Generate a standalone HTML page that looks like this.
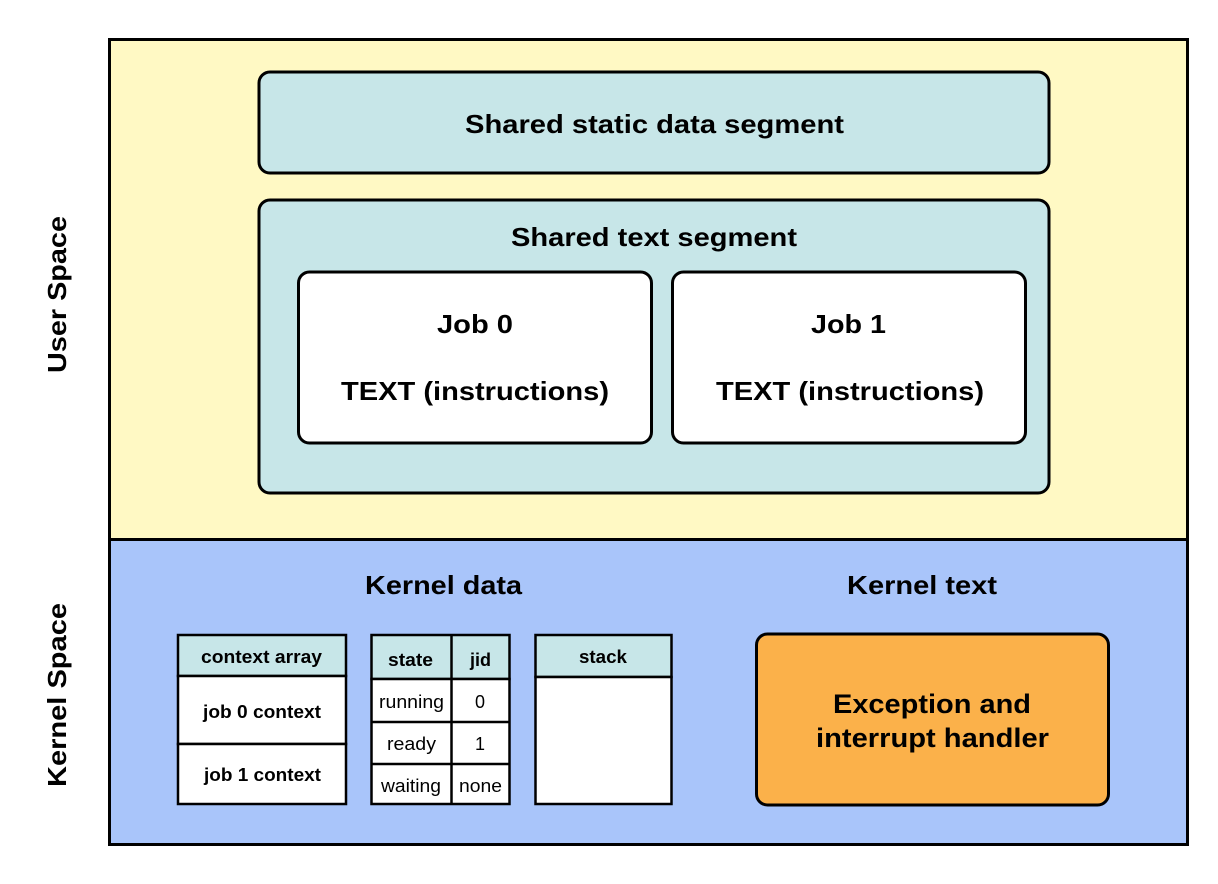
<!DOCTYPE html>
<html><head><style>
html,body{margin:0;padding:0;background:#fff;}
svg{display:block;font-family:"Liberation Sans",Arial,sans-serif;}
</style></head><body>
<svg width="1218" height="884" viewBox="0 0 1218 884">
<rect x="0" y="0" width="1218" height="884" fill="#fff"/>
<rect x="109.5" y="39.5" width="1078" height="500" fill="#fff9c4" stroke="#000" stroke-width="3"/>
<rect x="109.5" y="539.5" width="1078" height="305" fill="#a9c5fa" stroke="#000" stroke-width="3"/>
<text transform="translate(66,294.5) rotate(-90)" text-anchor="middle" font-size="26" font-weight="bold" textLength="157" lengthAdjust="spacingAndGlyphs">User Space</text>
<text transform="translate(66,695) rotate(-90)" text-anchor="middle" font-size="26" font-weight="bold" textLength="184" lengthAdjust="spacingAndGlyphs">Kernel Space</text>

<rect x="259" y="72" width="790" height="101" rx="11" fill="#c7e6e8" stroke="#000" stroke-width="3"/>
<text x="654.5" y="133" text-anchor="middle" font-size="26" font-weight="bold" textLength="379" lengthAdjust="spacingAndGlyphs">Shared static data segment</text>
<rect x="259" y="200" width="790" height="293" rx="11" fill="#c7e6e8" stroke="#000" stroke-width="3"/>
<text x="654" y="246" text-anchor="middle" font-size="26" font-weight="bold" textLength="286" lengthAdjust="spacingAndGlyphs">Shared text segment</text>
<rect x="298.5" y="272" width="353" height="171" rx="11" fill="#fff" stroke="#000" stroke-width="3"/>
<text x="475" y="333" text-anchor="middle" font-size="26" font-weight="bold" textLength="76" lengthAdjust="spacingAndGlyphs">Job 0</text>
<text x="475" y="400" text-anchor="middle" font-size="26" font-weight="bold" textLength="268" lengthAdjust="spacingAndGlyphs">TEXT (instructions)</text>
<rect x="672.5" y="272" width="353" height="171" rx="11" fill="#fff" stroke="#000" stroke-width="3"/>
<text x="848.5" y="333" text-anchor="middle" font-size="26" font-weight="bold" textLength="75" lengthAdjust="spacingAndGlyphs">Job 1</text>
<text x="850" y="400" text-anchor="middle" font-size="26" font-weight="bold" textLength="268" lengthAdjust="spacingAndGlyphs">TEXT (instructions)</text>

<text x="443.5" y="594" text-anchor="middle" font-size="26" font-weight="bold" textLength="157" lengthAdjust="spacingAndGlyphs">Kernel data</text>
<text x="922" y="594" text-anchor="middle" font-size="26" font-weight="bold" textLength="150" lengthAdjust="spacingAndGlyphs">Kernel text</text>

<g stroke="#000" stroke-width="2.5">
<rect x="178" y="635" width="168" height="41" fill="#c7e6e8"/>
<rect x="178" y="676" width="168" height="68" fill="#fff"/>
<rect x="178" y="744" width="168" height="60" fill="#fff"/>
<rect x="371.5" y="635" width="138" height="44" fill="#c7e6e8"/>
<rect x="371.5" y="679" width="138" height="125" fill="#fff"/>
<line x1="451.5" y1="635" x2="451.5" y2="804"/>
<line x1="371.5" y1="722" x2="509.5" y2="722"/>
<line x1="371.5" y1="764" x2="509.5" y2="764"/>
<rect x="535.5" y="635" width="136" height="42" fill="#c7e6e8"/>
<rect x="535.5" y="677" width="136" height="127" fill="#fff"/>
</g>
<g font-size="18" font-weight="bold" text-anchor="middle" lengthAdjust="spacingAndGlyphs">
<text x="261.5" y="663" textLength="121" lengthAdjust="spacingAndGlyphs">context array</text>
<text x="262" y="718" textLength="118" lengthAdjust="spacingAndGlyphs">job 0 context</text>
<text x="262.5" y="781" textLength="117" lengthAdjust="spacingAndGlyphs">job 1 context</text>
<text x="410.5" y="666" textLength="45" lengthAdjust="spacingAndGlyphs">state</text>
<text x="480.5" y="666" textLength="21" lengthAdjust="spacingAndGlyphs">jid</text>
<text x="603" y="663" textLength="48" lengthAdjust="spacingAndGlyphs">stack</text>
</g>
<g font-size="18" text-anchor="middle">
<text x="411.5" y="708" textLength="65" lengthAdjust="spacingAndGlyphs">running</text>
<text x="480" y="708">0</text>
<text x="411.5" y="750" textLength="49" lengthAdjust="spacingAndGlyphs">ready</text>
<text x="480" y="750">1</text>
<text x="411" y="792" textLength="60" lengthAdjust="spacingAndGlyphs">waiting</text>
<text x="480.5" y="792" textLength="43" lengthAdjust="spacingAndGlyphs">none</text>
</g>
<rect x="756.5" y="634" width="352" height="171" rx="11" fill="#fbb14a" stroke="#000" stroke-width="3"/>
<text x="932" y="713" text-anchor="middle" font-size="27" font-weight="bold" textLength="198" lengthAdjust="spacingAndGlyphs">Exception and</text>
<text x="932.5" y="747" text-anchor="middle" font-size="27" font-weight="bold" textLength="233" lengthAdjust="spacingAndGlyphs">interrupt handler</text>
</svg>
</body></html>
